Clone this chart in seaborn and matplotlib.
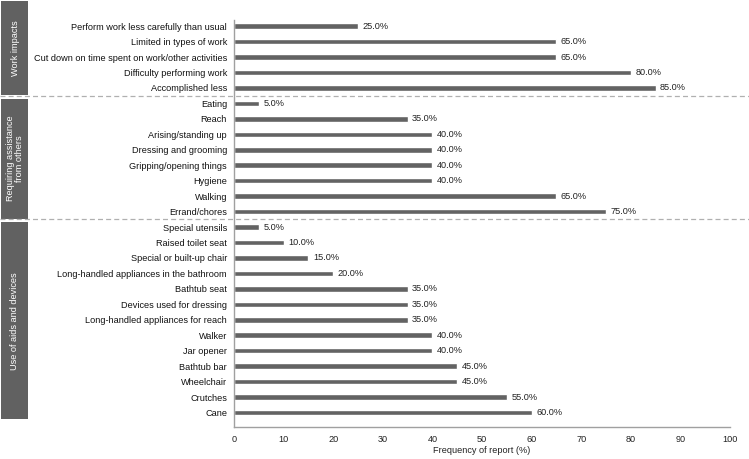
import matplotlib
matplotlib.use("Agg")
import matplotlib.pyplot as plt
import matplotlib.transforms as mtransforms
from matplotlib.patches import Rectangle
import seaborn as sns
import pandas as pd

# data
work_items = ["Perform work less carefully than usual", "Limited in types of work",
              "Cut down on time spent on work/other activities", "Difficulty performing work",
              "Accomplished less"]
work_vals = [25, 65, 65, 80, 85]

assist_items = ["Eating", "Reach", "Arising/standing up", "Dressing and grooming",
                "Gripping/opening things", "Hygiene", "Walking", "Errand/chores"]
assist_vals = [5, 35, 40, 40, 40, 40, 65, 75]

aids_items = ["Special utensils", "Raised toilet seat", "Special or built-up chair",
              "Long-handled appliances in the bathroom", "Bathtub seat",
              "Devices used for dressing", "Long-handled appliances for reach", "Walker",
              "Jar opener", "Bathtub bar", "Wheelchair", "Crutches", "Cane"]
aids_vals = [5, 10, 15, 20, 35, 35, 35, 40, 40, 45, 45, 55, 60]

groups = ["Work impacts", "Requiring assistance\nfrom others", "Use of aids and devices"]

df = pd.DataFrame({
    "item": work_items + assist_items + aids_items,
    "value": work_vals + assist_vals + aids_vals,
    "group": [groups[0]] * len(work_items) + [groups[1]] * len(assist_items)
             + [groups[2]] * len(aids_items),
})

sns.set_style("white")
plt.rcParams["font.family"] = ["Liberation Sans", "DejaVu Sans"]
fs = 6.6

fig = plt.figure(figsize=(7.49, 4.59), dpi=100)
ax = fig.add_axes([234 / 749, 1 - 427 / 459, (730 - 234) / 749, 407 / 459])

bar_col = "#636363"
sns.barplot(data=df, x="value", y="item", color=bar_col, saturation=1,
            width=0.36, ax=ax, orient="h")

n = len(df)
ax.set_ylim(n - 1 + 0.94, -0.4)
ax.set_xlim(0, 100)
ax.set_xticks(range(0, 101, 10))
ax.set_xlabel("Frequency of report (%)", fontsize=fs, color="#222222", labelpad=1.5)
ax.set_ylabel("")
ax.tick_params(axis="x", labelsize=fs, colors="#222222", length=3, width=0.8,
               direction="out", color="#999999", pad=3)
ax.tick_params(axis="y", labelsize=fs, colors="#111111", length=0, pad=5)
for s in ["top", "right"]:
    ax.spines[s].set_visible(False)
for s in ["left", "bottom"]:
    ax.spines[s].set_color("#a0a0a0")
    ax.spines[s].set_linewidth(1.0)

# value labels
for i, v in enumerate(df["value"]):
    ax.text(v + 0.9, i, f"{v:.1f}%", va="center", ha="left", fontsize=fs, color="#222222")

# group boxes and dashed separators
blend = mtransforms.blended_transform_factory(fig.transFigure, ax.transData)
sizes = [len(work_items), len(assist_items), len(aids_items)]
start = 0
for k, (g, sz) in enumerate(zip(groups, sizes)):
    top = start - 0.3 if k > 0 else -1.62
    bottom = start + sz - 1 + 0.45
    ax.add_patch(Rectangle((1 / 749, top), 27 / 749, bottom - top, transform=blend,
                           facecolor="#616161", edgecolor="none", clip_on=False))
    ax.text(15 / 749, (top + bottom) / 2, g, transform=blend, rotation=90,
            ha="center", va="center", color="white", fontsize=fs, linespacing=1.05,
            multialignment="center")
    if k > 0:
        ax.plot([0, 1], [start - 0.5, start - 0.5], transform=blend, clip_on=False,
                color="#b0b0b0", lw=0.9, ls=(0, (4, 2.5)))
    start += sz

fig.savefig("out.png", dpi=100)
